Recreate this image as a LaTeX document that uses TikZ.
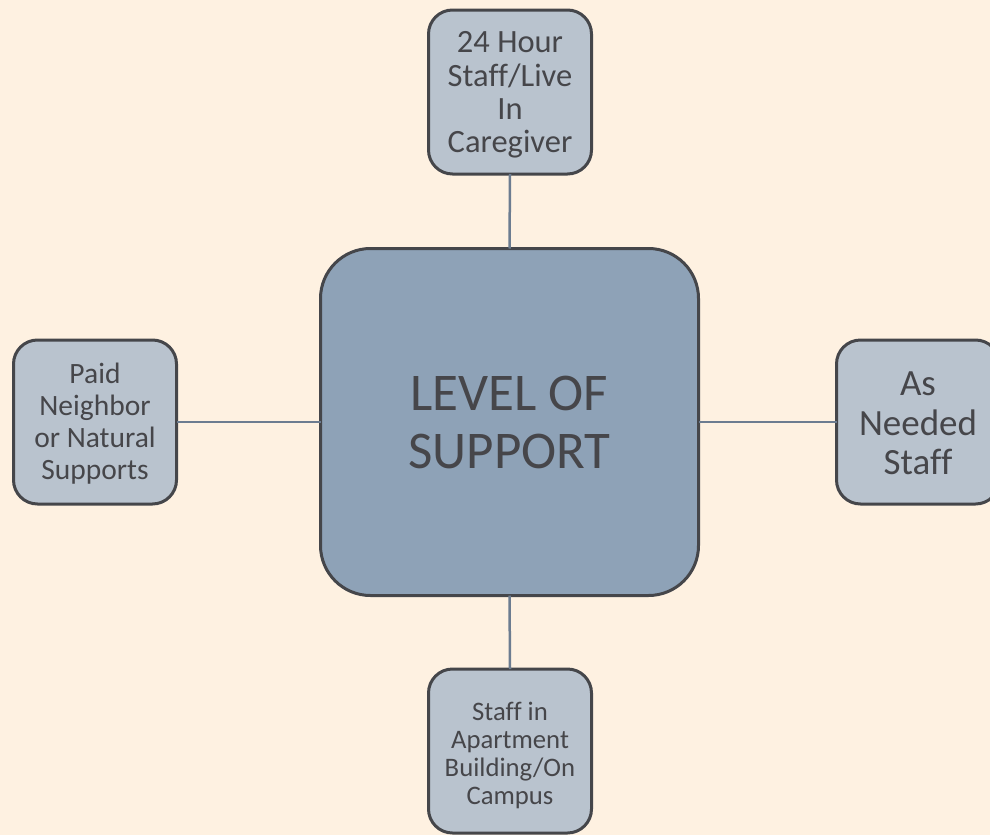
\documentclass[tikz,border=0pt]{standalone}
\usepackage{fontspec}
\setmainfont[Ligatures=NoCommon]{Carlito}
\definecolor{bg}{HTML}{FEF1E1}
\definecolor{edge}{HTML}{45464A}
\definecolor{hubfill}{HTML}{8EA2B7}
\definecolor{leaffill}{HTML}{B9C3CE}
\definecolor{conn}{HTML}{6C7C90}
\definecolor{txt}{HTML}{46464A}
\begin{document}
\begin{tikzpicture}[x=1pt,y=-1pt,
  leaf/.style={draw=edge, line width=3pt, fill=leaffill, rounded corners=24pt,
    minimum width=163pt, minimum height=164pt, inner sep=0pt, outer sep=0pt},
  hub/.style={draw=edge, line width=3pt, fill=hubfill, rounded corners=50pt,
    minimum width=378pt, minimum height=347pt, inner sep=0pt, outer sep=0pt,
    align=center, text=txt},
  lbl/.style={align=center, text=txt, inner sep=0pt},
  link/.style={draw=conn, line width=2.5pt}]
\useasboundingbox (0,0) rectangle (990,835);
\clip (0,0) rectangle (990,835);
\fill[bg] (0,0) rectangle (990,835);
\node[hub, font=\fontsize{53}{58}\selectfont] (hub) at (509.5,422) {LEVEL OF\\SUPPORT};
\node[leaf, label={[lbl, font=\fontsize{32.5}{33.3}\selectfont, yshift=-3pt]center:24 Hour\\Staff/Live\\In\\Caregiver}] (top) at (510,92) {};
\node[leaf, label={[lbl, font=\fontsize{29.5}{32}\selectfont, yshift=-2pt]center:Paid\\Neighbor\\or Natural\\Supports}] (left) at (95,422) {};
\node[leaf, label={[lbl, font=\fontsize{37}{39.5}\selectfont, yshift=-1.5pt]center:As\\Needed\\Staff}] (right) at (918,422) {};
\node[leaf, label={[lbl, font=\fontsize{26.7}{28}\selectfont, yshift=-4pt]center:Staff in\\Apartment\\Building/On\\Campus}] (bottom) at (510,751) {};
\draw[link] (hub.north) -- (top.south);
\draw[link] (hub.south) -- (bottom.north);
\draw[link] (hub.west) -- (left.east);
\draw[link] (hub.east) -- (right.west);
\end{tikzpicture}
\end{document}
